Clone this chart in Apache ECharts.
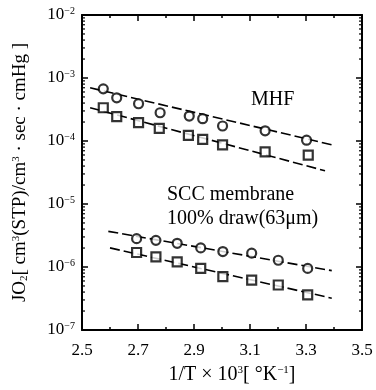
<!DOCTYPE html>
<html><head><meta charset="utf-8">
<script src="https://cdn.jsdelivr.net/npm/echarts@6/dist/echarts.min.js"></script>
<style>html,body{margin:0;padding:0;background:#fff}#c{width:376px;height:390px}</style>
</head><body><div id="c"></div>
<script>
// X ticks
const xTickLabels = ['2.5','2.7','2.9','3.1','3.3','3.5'];
// Y decades (exponents)
const yDecades = [-7,-6,-5,-4,-3,-2];
const yMinorMult = [2,3,4,5,6,7,8,9];

// MHF
const mhfCircleX = [2.576,2.624,2.702,2.779,2.883,2.931,3.002,3.154,3.302];
const mhfCircleY = [6.73e-4,4.85e-4,3.9e-4,2.81e-4,2.49e-4,2.26e-4,1.73e-4,1.45e-4,1.03e-4];
const mhfSquareX = [2.576,2.624,2.702,2.776,2.880,2.931,3.002,3.154,3.308];
const mhfSquareY = [3.37e-4,2.43e-4,1.96e-4,1.59e-4,1.23e-4,1.06e-4,8.7e-5,6.73e-5,5.97e-5];
// SCC membrane
const sccCircleX = [2.695,2.764,2.840,2.924,3.003,3.106,3.201,3.306];
const sccCircleY = [2.82e-6,2.65e-6,2.38e-6,2.01e-6,1.76e-6,1.66e-6,1.28e-6,9.5e-7];
const sccSquareX = [2.695,2.764,2.840,2.924,3.003,3.106,3.201,3.306];
const sccSquareY = [1.70e-6,1.45e-6,1.21e-6,9.5e-7,7.03e-7,6.21e-7,5.18e-7,3.6e-7];
// fitted lines (endpoints)
const mhfCircleFitX = [2.529,3.398];
const mhfCircleFitY = [6.98e-4,8.59e-5];
const mhfSquareFitX = [2.529,3.368];
const mhfSquareFitY = [3.37e-4,3.37e-5];
const sccCircleFitX = [2.594,3.392];
const sccCircleFitY = [3.68e-6,8.75e-7];
const sccSquareFitX = [2.600,3.392];
const sccSquareFitY = [2.01e-6,3.2e-7];

const zip = (a,b) => a.map((v,i)=>[v,b[i]]);
const minorVals = [];
yDecades.slice(0,-1).forEach(e => yMinorMult.forEach(m => minorVals.push([m*Math.pow(10,e)])));

const FONT = '"Liberation Serif", "DejaVu Serif", serif';
const chart = echarts.init(document.getElementById('c'), null, {renderer:'canvas'});

const lineStyle = {color:'#000', width:1.6, type:[10,4]};
const markerStyle = {color:'#fff', borderColor:'#000', borderWidth:2.2};

function fitSeries(xs, ys){
  return {type:'line', data: zip(xs,ys), symbol:'none', lineStyle: lineStyle, z:2, silent:true, animation:false};
}
function ptSeries(xs, ys, sym){
  return {type:'scatter', data: zip(xs,ys), symbol: sym, symbolSize: 9, itemStyle: markerStyle, z:3, animation:false};
}

const expLabel = v => {
  const e = Math.round(Math.log10(v));
  return '{b|10}{s|' + (e<0 ? '−' : '') + Math.abs(e) + '}';
};

const option = {
  animation:false,
  grid:{left:82, right:14, top:15, bottom:58},
  xAxis:[{
    type:'value', min:2.5, max:3.5, interval:0.2,
    axisLine:{lineStyle:{color:'#000', width:2}},
    axisTick:{inside:true, length:6, lineStyle:{color:'#000', width:1.5}},
    minorTick:{show:true, splitNumber:2, length:3, lineStyle:{color:'#000', width:1.5}},
    splitLine:{show:false},
    axisLabel:{margin:12, color:'#000', fontFamily:FONT, fontSize:17,
      formatter: v => { const i = Math.round((v-2.5)/0.2); return xTickLabels[i] || ''; }},
    name:'1/T × 10{sup|3}[ °K{sup|−1}]',
    nameLocation:'middle', nameGap:35,
    nameTextStyle:{color:'#000', fontFamily:FONT, fontSize:20, padding:[0,0,0,20],
      rich:{sup:{fontSize:11, verticalAlign:'top', fontFamily:FONT, color:'#000'}}}
  },{
    type:'value', min:2.5, max:3.5, interval:0.2, position:'top',
    axisLine:{lineStyle:{color:'#000', width:2}},
    axisTick:{inside:true, length:6, lineStyle:{color:'#000', width:1.5}},
    minorTick:{show:true, splitNumber:2, length:3, lineStyle:{color:'#000', width:1.5}},
    splitLine:{show:false}, axisLabel:{show:false}
  }],
  yAxis:[{
    type:'log', logBase:10, min:1e-7, max:1e-2, splitNumber:5,
    axisLine:{lineStyle:{color:'#000', width:2}},
    axisTick:{inside:true, length:6, lineStyle:{color:'#000', width:1.5}},
    splitLine:{show:false},
    axisLabel:{margin:7, color:'#000', formatter: expLabel,
      rich:{b:{fontFamily:FONT, fontSize:17, color:'#000'},
            s:{fontFamily:FONT, fontSize:10, verticalAlign:'top', color:'#000'}}},
    name:'JO{sub|2}[ cm{sup|3}(STP)/cm{sup|3} · sec · cmHg ]',
    nameLocation:'middle', nameGap:52, nameRotate:90,
    nameTextStyle:{color:'#000', fontFamily:FONT, fontSize:19,
      rich:{sup:{fontSize:11, verticalAlign:'top', fontFamily:FONT, color:'#000'},
            sub:{fontSize:11, verticalAlign:'bottom', fontFamily:FONT, color:'#000'}}}
  },{
    type:'log', logBase:10, min:1e-7, max:1e-2, splitNumber:5, position:'right',
    axisLine:{lineStyle:{color:'#000', width:2}},
    axisTick:{inside:true, length:6, lineStyle:{color:'#000', width:1.5}},
    splitLine:{show:false}, axisLabel:{show:false}
  }],
  series:[
    fitSeries(mhfCircleFitX, mhfCircleFitY),
    fitSeries(mhfSquareFitX, mhfSquareFitY),
    fitSeries(sccCircleFitX, sccCircleFitY),
    fitSeries(sccSquareFitX, sccSquareFitY),
    ptSeries(mhfCircleX, mhfCircleY, 'circle'),
    ptSeries(mhfSquareX, mhfSquareY, 'rect'),
    ptSeries(sccCircleX, sccCircleY, 'circle'),
    ptSeries(sccSquareX, sccSquareY, 'rect'),
    {
      type:'custom', data: minorVals, silent:true, z:4, animation:false,
      encode:{y:0},
      renderItem: (params, api) => {
        const v = api.value(0);
        const l = api.coord([2.5, v]);
        const r = api.coord([3.5, v]);
        const st = {stroke:'#000', lineWidth:1.2};
        return {type:'group', children:[
          {type:'line', shape:{x1:l[0], y1:l[1], x2:l[0]+3, y2:l[1]}, style:st},
          {type:'line', shape:{x1:r[0], y1:r[1], x2:r[0]-3, y2:r[1]}, style:st}
        ]};
      }
    }
  ],
  graphic:[
    {type:'text', left:251, top:90, style:{text:'MHF', font:'20px '+FONT, fill:'#000'}},
    {type:'text', left:167, top:185, style:{text:'SCC membrane', font:'20px '+FONT, fill:'#000'}},
    {type:'text', left:167, top:209, style:{text:'100% draw(63μm)', font:'20px '+FONT, fill:'#000'}}
  ]
};
chart.setOption(option);
</script></body></html>
